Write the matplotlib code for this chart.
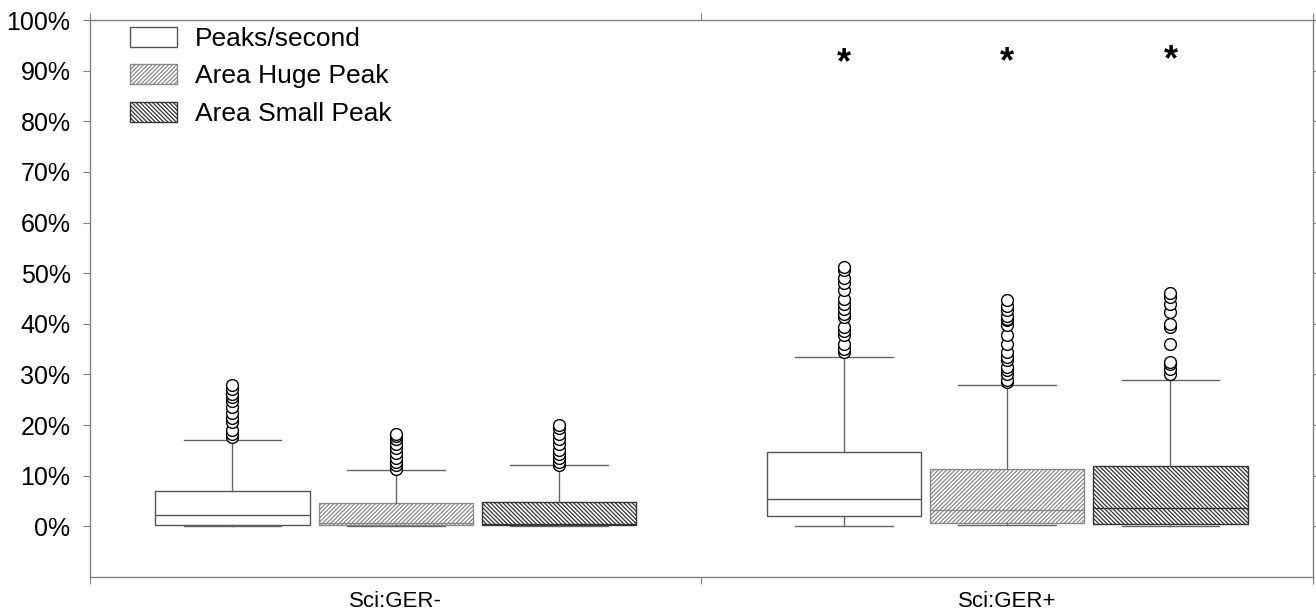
import matplotlib
matplotlib.use('Agg')
import matplotlib.pyplot as plt
from matplotlib.patches import Patch
from matplotlib.ticker import FixedLocator, FixedFormatter

plt.rcParams['font.family'] = ['Liberation Sans', 'DejaVu Sans']
plt.rcParams['hatch.linewidth'] = 0.9

groups = ['Sci:GER-', 'Sci:GER+']
series = ['Peaks/second', 'Area Huge Peak', 'Area Small Peak']

# box statistics in %, one value per group
q1 = [[0.3, 2.1], [0.2, 0.6], [0.2, 0.5]]
med = [[2.2, 5.5], [0.6, 3.2], [0.4, 3.7]]
q3 = [[6.9, 14.6], [4.6, 11.4], [4.8, 11.9]]
whislo = [[0.1, 0.0], [0.1, 0.2], [0.1, 0.0]]
whishi = [[17.1, 33.4], [11.2, 28.0], [12.2, 29.0]]

fliers = [
    [[17.6, 18.3, 19.1, 20.6, 21.5, 22.3, 23.6, 24.8, 25.5, 26.2, 27.2, 27.9],
     [34.4, 35.0, 36.1, 37.7, 38.5, 39.4, 41.4, 42.0, 43.0, 44.0, 45.0, 46.6,
      48.0, 49.0, 50.6, 51.2]],
    [[11.4, 12.2, 12.8, 13.6, 14.5, 15.5, 16.3, 17.2, 17.8, 18.3],
     [28.5, 29.0, 30.0, 30.8, 31.5, 32.8, 33.5, 34.4, 36.1, 37.7, 39.7,
      40.7, 41.0, 41.5, 42.7, 43.5, 44.7]],
    [[12.1, 12.8, 13.6, 14.2, 15.0, 16.3, 17.3, 18.3, 19.4, 20.0],
     [30.0, 31.0, 32.0, 32.5, 36.1, 39.4, 40.0, 42.4, 44.0, 45.3, 46.1]],
]
star_y = [91.4, 91.6, 92.0]  # significance marks above Sci:GER+ boxes

hatches = ['', '////////', '\\\\\\\\\\\\\\\\']
edge_cols = ['#555555', '#8a8a8a', '#333333']
offsets = [-0.267, 0.0, 0.267]

fig = plt.figure(figsize=(13.16, 6.16), dpi=100)
ax = fig.add_axes([0.0684, 0.0633, 0.9293, 0.9042])

for s in range(3):
    stats = []
    for g in range(2):
        stats.append(dict(q1=q1[s][g], med=med[s][g], q3=q3[s][g],
                          whislo=whislo[s][g], whishi=whishi[s][g],
                          fliers=fliers[s][g]))
    pos = [g + 0.5 + offsets[s] for g in range(2)]
    bp = ax.bxp(stats, positions=pos, widths=0.252, capwidths=0.16,
                patch_artist=True, showfliers=True,
                boxprops=dict(facecolor='white', edgecolor=edge_cols[s], linewidth=1.0),
                medianprops=dict(color=edge_cols[s], linewidth=1.0),
                whiskerprops=dict(color='#666666', linewidth=1.0),
                capprops=dict(color='#666666', linewidth=1.0),
                flierprops=dict(marker='o', markerfacecolor='white',
                                markeredgecolor='black', markersize=8.5,
                                markeredgewidth=1.0))
    for b in bp['boxes']:
        b.set_hatch(hatches[s])

for s in range(3):
    ax.text(1.5 + offsets[s], star_y[s], '*', ha='center', va='center',
            fontsize=26, fontweight='bold', color='black')

ax.set_xlim(0, 2)
ax.set_ylim(-10, 100)

ax.set_yticks(range(0, 101, 10))
ax.set_yticklabels(['%d%%' % v for v in range(0, 101, 10)], fontsize=18)
ax.tick_params(axis='y', which='major', direction='out', length=5,
               color='#808080', left=True, right=True, pad=9)

ax.xaxis.set_major_locator(FixedLocator([0, 1, 2]))
ax.xaxis.set_major_formatter(FixedFormatter(['', '', '']))
ax.xaxis.set_minor_locator(FixedLocator([0.5, 1.5]))
ax.xaxis.set_minor_formatter(FixedFormatter(groups))
ax.tick_params(axis='x', which='major', direction='out', length=5,
               color='#808080', top=True, bottom=True)
ax.tick_params(axis='x', which='minor', length=0, labelsize=16, pad=10)

for sp in ax.spines.values():
    sp.set_color('#808080')
    sp.set_linewidth(1.0)

handles = [Patch(facecolor='white', edgecolor=edge_cols[i], hatch=hatches[i],
                 linewidth=1.0, label=series[i]) for i in range(3)]
ax.legend(handles=handles, loc='upper left', bbox_to_anchor=(0.033, 0.988),
          frameon=False, fontsize=19, handlelength=1.78, handleheight=0.8,
          handletextpad=0.68, labelspacing=0.5, borderpad=0, borderaxespad=0)

fig.savefig('out.png', dpi=100)
